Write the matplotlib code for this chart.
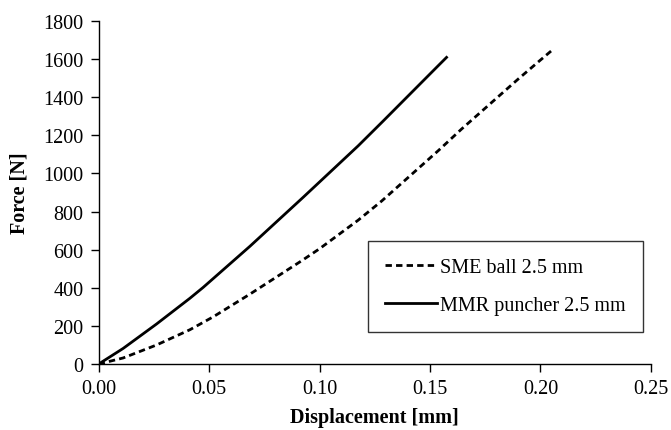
import matplotlib
matplotlib.use('Agg')
import matplotlib.pyplot as plt

# ── Data ──────────────────────────────────────────────────────────────────────
sme_disp = [0.0, 0.0111, 0.0262, 0.0413, 0.0519, 0.0685, 0.0919, 0.100,
            0.1175, 0.1281, 0.1537, 0.1643, 0.1899, 0.1997, 0.205]
sme_force = [0, 32, 100, 180, 248, 367, 542, 605,
             755, 855, 1119, 1233, 1495, 1592, 1644]

mmr_disp = [0.0, 0.0111, 0.0262, 0.0413, 0.0473, 0.0685, 0.0926,
            0.1175, 0.1288, 0.1537, 0.1575]
mmr_force = [0, 82, 210, 345, 402, 618, 875, 1145, 1275, 1565, 1609]

x_ticks = [0.00, 0.05, 0.10, 0.15, 0.20, 0.25]
y_ticks = [0, 200, 400, 600, 800, 1000, 1200, 1400, 1600, 1800]

plt.rcParams['font.family'] = ['Liberation Serif', 'DejaVu Serif']

# ── Figure ────────────────────────────────────────────────────────────────────
fig = plt.figure(figsize=(6.71, 4.31), dpi=100)
ax = fig.add_axes([0.147, 0.153, 0.823, 0.796])

ax.plot(sme_disp, sme_force, color='black', linewidth=2.0,
        dashes=(2.3, 1.5), label='SME ball 2.5 mm')
ax.plot(mmr_disp, mmr_force, color='black', linewidth=2.0,
        label='MMR puncher 2.5 mm')

ax.set_xlim(0, 0.25)
ax.set_ylim(0, 1800)
ax.set_xticks(x_ticks)
ax.set_xticklabels([f"{t:.2f}" for t in x_ticks])
ax.set_yticks(y_ticks)
ax.tick_params(labelsize=14.5, length=6, width=1, direction='out', pad=5)

for side in ('top', 'right'):
    ax.spines[side].set_visible(False)
for side in ('left', 'bottom'):
    ax.spines[side].set_linewidth(1.0)

ax.set_xlabel("Displacement [mm]", fontsize=14.5, fontweight='bold', labelpad=6)
ax.set_ylabel("Force [N]", fontsize=14.5, fontweight='bold', labelpad=10)

leg = ax.legend(loc='lower right', bbox_to_anchor=(0.986, 0.093),
                fontsize=14.5, frameon=True, fancybox=False, edgecolor='black',
                handlelength=2.6, handletextpad=0.15, labelspacing=0.95,
                borderpad=0.85, borderaxespad=0)
leg.get_frame().set_linewidth(1.0)

fig.savefig("out.png", dpi=100)
